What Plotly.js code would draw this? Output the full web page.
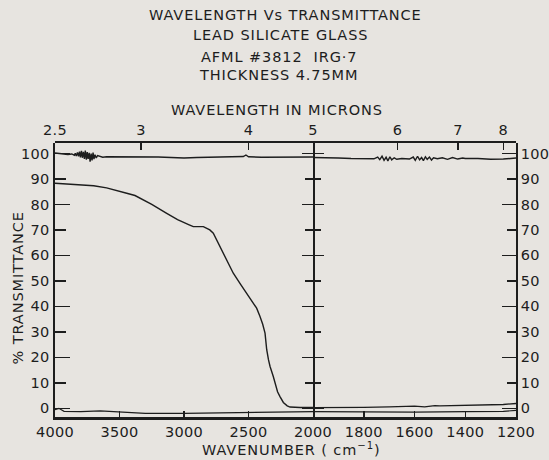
<!DOCTYPE html>
<html>
<head>
<meta charset="utf-8">
<script src="https://cdn.plot.ly/plotly-3.0.1.min.js"></script>
<style>
html,body{margin:0;padding:0;background:#e7e4e0;}
.annotation-text{letter-spacing:0.9px;}
g[class*="tick"] > text{letter-spacing:0.3px;}
</style>
</head>
<body>
<div id="chart" style="width:549px;height:460px;"></div>
<script>
// ---- Data ----
// Left panel: 4000-2000 cm-1 ; right panel: 2000-1200 cm-1
const sampleWnLeft = [4000,3900,3800,3700,3600,3500,3444,3380,3316,3250,3134,3050,2960,2928,2850,2800,2773,2721,2670,2618,2560,2514,2470,2437,2411,2390,2372,2359,2345,2333,2308,2295,2275,2256,2230,2200,2178,2100,2000];
const sampleTLeft  = [88.3,88.0,87.5,87.3,86.5,85.3,84.4,83.5,81.8,80.0,76.5,74.0,72.0,71.3,71.3,70.0,68.7,63.5,58.0,53.0,48.5,45.2,42.0,39.3,36.0,33.0,29.5,23.0,19.0,16.4,12.5,9.9,6.5,4.6,2.3,1.0,0.5,0.3,0.3];
const sampleWnRight = [2000,1900,1800,1700,1650,1600,1560,1520,1500,1450,1400,1350,1300,1250,1200];
const sampleTRight  = [0.3,0.3,0.4,0.6,0.7,0.9,0.6,1.1,1.0,1.1,1.3,1.3,1.4,1.5,1.9];

const refWnLeft = [4000,3950,3900,3870,3850,3843,3835,3826,3818,3810,3803,3795,3788,3780,3772,3765,3757,3750,3743,3735,3728,3720,3713,3705,3698,3690,3680,3670,3650,3630,3600,3500,3400,3300,3200,3100,3000,2900,2800,2700,2600,2540,2520,2500,2400,2300,2200,2100,2000];
const refTLeft  = [100.2,99.8,99.6,99.8,99.3,100.1,99.0,100.4,98.9,100.7,98.5,101.0,98.3,100.6,97.9,101.1,97.6,100.5,97.9,100.2,96.8,99.9,97.3,100.3,97.8,99.5,98.2,99.2,98.8,98.5,98.7,98.7,98.6,98.5,98.6,98.4,98.2,98.4,98.5,98.6,98.6,98.8,99.4,98.7,98.5,98.6,98.5,98.5,98.6];
const refWnRight = [2000,1950,1900,1850,1800,1760,1745,1737,1728,1720,1712,1705,1697,1690,1680,1670,1650,1620,1605,1597,1588,1580,1572,1565,1557,1550,1541,1533,1525,1510,1490,1470,1450,1430,1410,1400,1350,1300,1250,1200];
const refTRight  = [98.4,98.4,98.2,98.0,98.1,97.9,98.6,97.6,98.9,97.3,98.5,97.1,98.7,97.5,98.3,97.7,98.0,97.8,98.6,97.3,98.9,97.5,98.4,97.2,98.7,97.7,98.6,97.4,98.3,97.9,98.3,97.7,98.4,97.8,98.2,98.0,98.0,97.7,97.8,98.2];

const zeroWnLeft = [4000,3970,3930,3800,3650,3500,3300,3000,2700,2500,2300,2000];
const zeroTLeft  = [-0.5,0.0,-1.2,-1.3,-1.0,-1.5,-2.0,-2.0,-1.8,-1.5,-1.5,-1.3];
const zeroWnRight = [2000,1800,1600,1400,1250,1200];
const zeroTRight  = [-1.3,-1.5,-1.5,-1.3,-1.2,-0.8];

// Tick labels
const wnTicksLeft = [4000,3500,3000,2500];
const wnTicksRight = [2000,1800,1600,1400,1200];
const micronLeft = [2.5,3,4,5];
const micronRight = [6,7,8];
const yTicks = [0,10,20,30,40,50,60,70,80,90,100];
const yTicksMajor = [0,20,40,60,80,100];
const yTicksMinor = [10,30,50,70,90];

const titleLines = ['WAVELENGTH Vs TRANSMITTANCE','LEAD SILICATE GLASS','AFML #3812  IRG·7','THICKNESS 4.75MM'];

// ---- Styling ----
const INK = '#1d1d1d';
const BG = '#e7e4e0';
const FONT = 'DejaVu Sans';
const split = 0.5597;
const yRange = [-3.4, 104.1];

function line(x, y, xa, ya, w) {
  return {x: x, y: y, xaxis: xa, yaxis: ya, type: 'scatter', mode: 'lines',
          line: {color: INK, width: w || 1.3}, hoverinfo: 'skip', showlegend: false};
}
const data = [
  line(sampleWnLeft, sampleTLeft, 'x', 'y', 1.4),
  line(refWnLeft, refTLeft, 'x3', 'y5', 1.4),
  line(zeroWnLeft, zeroTLeft, 'x', 'y3', 1.2),
  line(sampleWnRight, sampleTRight, 'x2', 'y2', 1.3),
  line(refWnRight, refTRight, 'x4', 'y6', 1.4),
  line(zeroWnRight, zeroTRight, 'x2', 'y4', 1.2)
];

const tf = {family: FONT, size: 14.5, color: INK};
const baseX = {showgrid: false, zeroline: false, showline: true, linecolor: INK, linewidth: 2.5,
               ticks: 'inside', tickcolor: INK, tickwidth: 1.5, ticklen: 6, tickfont: tf, tickmode: 'array',
               fixedrange: true};
const baseY = {showgrid: false, zeroline: false, range: yRange, domain: [0, 1], linecolor: INK, tickcolor: INK,
               tickwidth: 1.5, tickmode: 'array', tickfont: tf, fixedrange: true};

const tfont = {family: FONT, size: 14.5, color: INK};
const titleX = [0.501, 0.490, 0.486, 0.484];
const titleY = [1.4672, 1.3942, 1.3150, 1.2482];

const layout = {
  width: 549, height: 460,
  margin: {l: 55, r: 33, t: 143, b: 43, pad: 0},
  paper_bgcolor: BG, plot_bgcolor: 'rgba(0,0,0,0)',
  font: {family: FONT, color: INK},
  // bottom wavenumber axes
  xaxis: Object.assign({}, baseX, {domain: [0, split], range: [4000, 2000], anchor: 'y',
          tickvals: wnTicksLeft, ticktext: wnTicksLeft.map(String)}),
  xaxis2: Object.assign({}, baseX, {domain: [split, 1], range: [2000, 1200], anchor: 'y2',
          tickvals: wnTicksRight, ticktext: wnTicksRight.map(String)}),
  // top wavelength axes
  xaxis3: Object.assign({}, baseX, {domain: [0, split], anchor: 'y5', side: 'top', range: [4000, 2000],
          linewidth: 1.8, ticklen: 7,
          tickvals: micronLeft.map(m => 10000 / m), ticktext: micronLeft.map(String)}),
  xaxis4: Object.assign({}, baseX, {domain: [split, 1], anchor: 'y6', side: 'top', range: [2000, 1200],
          linewidth: 1.8, ticklen: 7,
          tickvals: micronRight.map(m => 10000 / m), ticktext: micronRight.map(String)}),
  // left labelled axis
  yaxis: Object.assign({}, baseY, {anchor: 'x', side: 'left', showline: true, linewidth: 2.5,
          ticks: 'inside', ticklen: 11, tickvals: yTicks, ticktext: yTicks.map(String)}),
  // right labelled axis
  yaxis2: Object.assign({}, baseY, {anchor: 'x2', side: 'right', showline: true, linewidth: 1.8,
          ticks: 'inside', ticklen: 9, tickvals: yTicks, ticktext: yTicks.map(String)}),
  // divider (right edge of left panel)
  yaxis3: Object.assign({}, baseY, {anchor: 'x', side: 'right', showline: true, linewidth: 2,
          ticks: 'inside', ticklen: 11, tickvals: yTicksMajor, showticklabels: false,
          minor: {ticks: 'inside', ticklen: 8, tickvals: yTicksMinor, tickcolor: INK, tickwidth: 1.5}}),
  // divider (left edge of right panel)
  yaxis4: Object.assign({}, baseY, {anchor: 'x2', side: 'left', showline: false,
          ticks: 'inside', ticklen: 11, tickvals: yTicksMajor, showticklabels: false,
          minor: {ticks: 'inside', ticklen: 8, tickvals: yTicksMinor, tickcolor: INK, tickwidth: 1.5}}),
  // long ticks on outer axes
  yaxis5: Object.assign({}, baseY, {anchor: 'x3', side: 'left', showline: false,
          ticks: 'inside', ticklen: 15, tickvals: yTicksMajor, showticklabels: false}),
  yaxis6: Object.assign({}, baseY, {anchor: 'x4', side: 'right', showline: false,
          ticks: 'inside', ticklen: 14, tickvals: yTicksMajor, showticklabels: false}),
  annotations: titleLines.map((t, i) => ({
      text: t, xref: 'paper', yref: 'paper', x: titleX[i], y: titleY[i],
      xanchor: 'center', yanchor: 'middle', showarrow: false, font: tfont
    })).concat([
    {text: 'WAVELENGTH IN MICRONS', xref: 'paper', yref: 'paper', x: 0.4826, y: 1.1204,
     xanchor: 'center', yanchor: 'middle', showarrow: false, font: tfont},
    {text: 'WAVENUMBER ( cm<sup>−1</sup>)', xref: 'paper', yref: 'paper', x: 0.512, y: -0.117,
     xanchor: 'center', yanchor: 'middle', showarrow: false, font: tfont},
    {text: '% TRANSMITTANCE', xref: 'paper', yref: 'paper', x: -0.0813, y: 0.4708, textangle: -90,
     xanchor: 'center', yanchor: 'middle', showarrow: false, font: tfont}
  ])
};

Plotly.newPlot('chart', data, layout, {staticPlot: true, displayModeBar: false});
</script>
</body>
</html>
